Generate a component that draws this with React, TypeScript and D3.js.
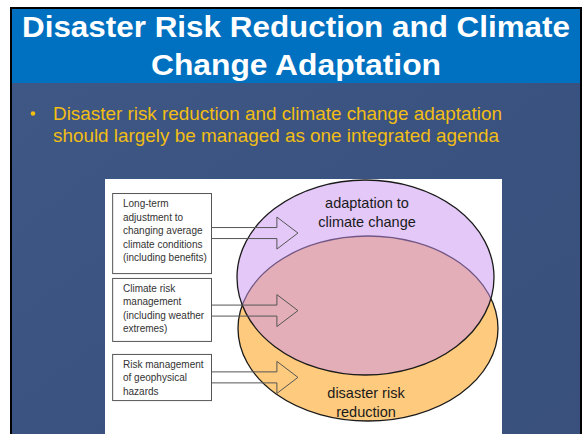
import React from "react";
import * as d3 from "d3";

const titleLines = ["Disaster Risk Reduction and Climate", "Change Adaptation"];
const bulletLines = [
  "Disaster risk reduction and climate change adaptation",
  "should largely be managed as one integrated agenda",
];
const boxLabels = [
  ["Long-term", "adjustment to", "changing average", "climate conditions", "(including benefits)"],
  ["Climate risk", "management", "(including weather", "extremes)"],
  ["Risk management", "of geophysical", "hazards"],
];
const setNames = ["adaptation to climate change", "disaster risk reduction"];
const setLabelLines = [["adaptation to", "climate change"], ["disaster risk", "reduction"]];

const W = 583;
const H = 434;

// diagram coordinate space (0..100) mapped into the white panel
const px = d3.scaleLinear().domain([0, 100]).range([105, 502]);
const py = d3.scaleLinear().domain([0, 100]).range([179, 434]);

// layout constants (in diagram units)
const boxRanges: [number, number][] = [
  [5.5, 36.9],
  [38.8, 63.5],
  [68.6, 86.7],
];
const arrowCenters = [21.2, 51.6, 77.8];

export default function App() {
  const font = "'Liberation Sans', Arial, sans-serif";
  const boxX0 = px(1.8);
  const boxX1 = px(26.7);
  const shaftEnd = px(43.3);
  const tipX = px(48.6);

  const arrowPath = (cy: number) => {
    const p = d3.path();
    const sh = 5.5;
    const hh = 16;
    p.moveTo(boxX1, cy - sh);
    p.lineTo(shaftEnd, cy - sh);
    p.lineTo(shaftEnd, cy - hh);
    p.lineTo(tipX, cy);
    p.lineTo(shaftEnd, cy + hh);
    p.lineTo(shaftEnd, cy + sh);
    p.lineTo(boxX1, cy + sh);
    return p.toString();
  };

  const ellipses = [
    { name: setNames[0], cx: 365.5, cy: 277.5, rx: 128.5, ry: 97.5, fill: "rgb(199,145,241)", op: 0.5 },
    { name: setNames[1], cx: 368, cy: 328.5, rx: 130, ry: 92.5, fill: "#FECB7E", op: 1 },
  ];

  return (
    <svg
      width={W}
      height={H}
      style={{ position: "absolute", left: 0, top: 0, display: "block" }}
      fontFamily={font}
    >
      <defs>
        <linearGradient id="bodyGrad" x1="0" y1="0" x2="1" y2="1">
          <stop offset="0" stopColor="#3E5784" />
          <stop offset="0.5" stopColor="#3A527F" />
          <stop offset="1" stopColor="#39507C" />
        </linearGradient>
      </defs>
      <rect x={0} y={0} width={W} height={H} fill="#ffffff" />
      <rect x={10} y={7} width={572} height={H} fill="#000000" />
      <rect x={12} y={9} width={568} height={74} fill="#0070C0" />
      <rect x={12} y={83} width={568} height={H} fill="url(#bodyGrad)" />

      {/* title */}
      <g fill="#ffffff" fontWeight="bold" fontSize={29} textAnchor="middle">
        <text x={296} y={37} textLength={548} lengthAdjust="spacingAndGlyphs">
          {titleLines[0]}
        </text>
        <text x={296} y={75} textLength={290} lengthAdjust="spacingAndGlyphs">
          {titleLines[1]}
        </text>
      </g>

      {/* bullet */}
      <g fill="#F2BE14" fontSize={18.5}>
        <circle cx={33} cy={113.5} r={2.3} fill="#F2BE14" />
        <text x={53} y={120} textLength={449} lengthAdjust="spacingAndGlyphs">
          {bulletLines[0]}
        </text>
        <text x={53} y={142} textLength={446} lengthAdjust="spacingAndGlyphs">
          {bulletLines[1]}
        </text>
      </g>

      {/* white panel */}
      <rect x={px(0)} y={py(0)} width={px(100) - px(0)} height={py(100) - py(0)} fill="#ffffff" />

      {/* ellipses: orange below, purple translucent above */}
      <ellipse
        cx={ellipses[1].cx}
        cy={ellipses[1].cy}
        rx={ellipses[1].rx}
        ry={ellipses[1].ry}
        fill={ellipses[1].fill}
        stroke="#1a1a1a"
        strokeWidth={1.3}
      />
      <ellipse
        cx={ellipses[0].cx}
        cy={ellipses[0].cy}
        rx={ellipses[0].rx}
        ry={ellipses[0].ry}
        fill={ellipses[0].fill}
        fillOpacity={ellipses[0].op}
        stroke="#1a1a1a"
        strokeWidth={1.3}
      />

      {/* set labels */}
      <g fill="#1a1a1a" fontSize={14.5} textAnchor="middle">
        <text x={367} y={208}>{setLabelLines[0][0]}</text>
        <text x={367} y={227}>{setLabelLines[0][1]}</text>
        <text x={366} y={398}>{setLabelLines[1][0]}</text>
        <text x={366} y={417}>{setLabelLines[1][1]}</text>
      </g>

      {/* boxes */}
      {boxLabels.map((lines, i) => {
        const y0 = py(boxRanges[i][0]);
        const y1 = py(boxRanges[i][1]);
        const firstBase = y0 + 14;
        return (
          <g key={i}>
            <rect
              x={boxX0 + 0.5}
              y={y0 + 0.5}
              width={boxX1 - boxX0}
              height={y1 - y0}
              fill="#ffffff"
              stroke="#555555"
              strokeWidth={1}
            />
            {lines.map((l, j) => (
              <text key={j} x={123} y={firstBase + j * 13.5} fontSize={10} fill="#333333">
                {l}
              </text>
            ))}
          </g>
        );
      })}

      {/* arrows */}
      {arrowCenters.map((c, i) => (
        <path key={i} d={arrowPath(py(c))} fill="none" stroke="#555555" strokeWidth={1} />
      ))}
    </svg>
  );
}
